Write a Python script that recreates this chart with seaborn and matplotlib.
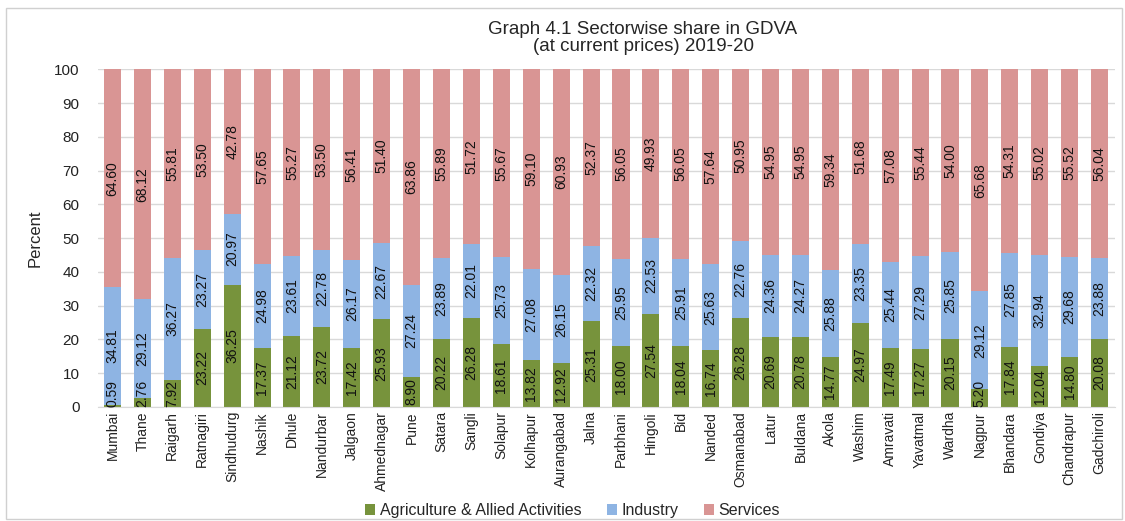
"""
Sectorwise share in GDVA by district, 2019-20 (stacked percent bars)
"""
import numpy as np
import pandas as pd
import matplotlib.pyplot as plt
import seaborn as sns
from matplotlib.patches import Rectangle, Patch

districts = ["Mumbai", "Thane", "Raigarh", "Ratnagiri", "Sindhudurg", "Nashik", "Dhule",
             "Nandurbar", "Jalgaon", "Ahmednagar", "Pune", "Satara", "Sangli", "Solapur",
             "Kolhapur", "Aurangabad", "Jalna", "Parbhani", "Hingoli", "Bid", "Nanded",
             "Osmanabad", "Latur", "Buldana", "Akola", "Washim", "Amravati", "Yavatmal",
             "Wardha", "Nagpur", "Bhandara", "Gondiya", "Chandrapur", "Gadchiroli"]
agriculture = [0.59, 2.76, 7.92, 23.22, 36.25, 17.37, 21.12, 23.72, 17.42, 25.93, 8.90,
               20.22, 26.28, 18.61, 13.82, 12.92, 25.31, 18.00, 27.54, 18.04, 16.74, 26.28,
               20.69, 20.78, 14.77, 24.97, 17.49, 17.27, 20.15, 5.20, 17.84, 12.04, 14.80, 20.08]
industry = [34.81, 29.12, 36.27, 23.27, 20.97, 24.98, 23.61, 22.78, 26.17, 22.67, 27.24,
            23.89, 22.01, 25.73, 27.08, 26.15, 22.32, 25.95, 22.53, 25.91, 25.63, 22.76,
            24.36, 24.27, 25.88, 23.35, 25.44, 27.29, 25.85, 29.12, 27.85, 32.94, 29.68, 23.88]
services = [64.60, 68.12, 55.81, 53.50, 42.78, 57.65, 55.27, 53.50, 56.41, 51.40, 63.86,
            55.89, 51.72, 55.67, 59.10, 60.93, 52.37, 56.05, 49.93, 56.05, 57.64, 50.95,
            54.95, 54.95, 59.34, 51.68, 57.08, 55.44, 54.00, 65.68, 54.31, 55.02, 55.52, 56.04]

series_names = ["Agriculture & Allied Activities", "Industry", "Services"]
colors = ["#77933C", "#8EB4E3", "#D99594"]

df = pd.DataFrame({"district": districts, "agri": agriculture,
                   "ind": industry, "serv": services})
df["lvl1"] = df["agri"]
df["lvl2"] = df["agri"] + df["ind"]
df["lvl3"] = df["lvl2"] + df["serv"]

sns.set_style("whitegrid")
plt.rcParams["font.family"] = ["Liberation Sans", "DejaVu Sans"]

fig = plt.figure(figsize=(11.25, 5.21), dpi=100)
ax = fig.add_axes([0.0867, 0.219, 0.904, 0.648])

# Draw cumulative totals back to front so they read as stacked bars
for col, color in zip(["lvl3", "lvl2", "lvl1"], colors[::-1]):
    sns.barplot(data=df, x="district", y=col, color=color, width=0.57,
                saturation=1, ax=ax, order=districts, linewidth=0)

# Segment labels, centred and rotated; tiny bottom segments sit on the axis (like Excel)
for i, row in df.iterrows():
    segs = [(row["agri"], row["agri"] / 2),
            (row["ind"], row["lvl1"] + row["ind"] / 2),
            (row["serv"], row["lvl2"] + row["serv"] / 2)]
    for val, mid in segs:
        if mid < 3:
            ax.text(i, 0, f"{val:.2f}", rotation=90, ha="center", va="bottom",
                    fontsize=10, color="#111111")
        else:
            ax.text(i, mid, f"{val:.2f}", rotation=90, ha="center", va="center",
                    fontsize=10, color="#111111")

ax.set_ylim(0, 100)
ax.set_xlim(-0.5, len(districts) - 0.5)
ax.set_yticks(np.arange(0, 101, 10))
ax.tick_params(axis="y", labelsize=11, length=0, pad=13, labelcolor="#222222")
ax.tick_params(axis="x", labelsize=10, length=0, rotation=90, pad=3, labelcolor="#222222")
ax.set_xlabel("")
ax.set_ylabel("Percent", fontsize=12, labelpad=8)
ax.grid(axis="y", color="#D9D9D9", linewidth=1)
ax.grid(axis="x", visible=False)
ax.set_axisbelow(True)
for s in ["left", "right", "top"]:
    ax.spines[s].set_visible(False)
ax.spines["bottom"].set_color("#D9D9D9")

fig.suptitle("Graph 4.1 Sectorwise share in GDVA\n(at current prices) 2019-20",
             x=0.5716, y=0.96, fontsize=13.5, linespacing=1.0)

handles = [Patch(facecolor=c, edgecolor="none") for c in colors]
fig.legend(handles, series_names, loc="lower center", bbox_to_anchor=(0.509, -0.022),
           ncol=3, frameon=False, fontsize=11.5, handlelength=0.6, handleheight=0.6,
           columnspacing=1.6, handletextpad=0.3)

fig.patches.append(Rectangle((0.005, 0.004), 0.992, 0.98, transform=fig.transFigure,
                             fill=False, edgecolor="#D0D0D0", linewidth=1))

fig.savefig("out.png", dpi=100)
plt.close(fig)
